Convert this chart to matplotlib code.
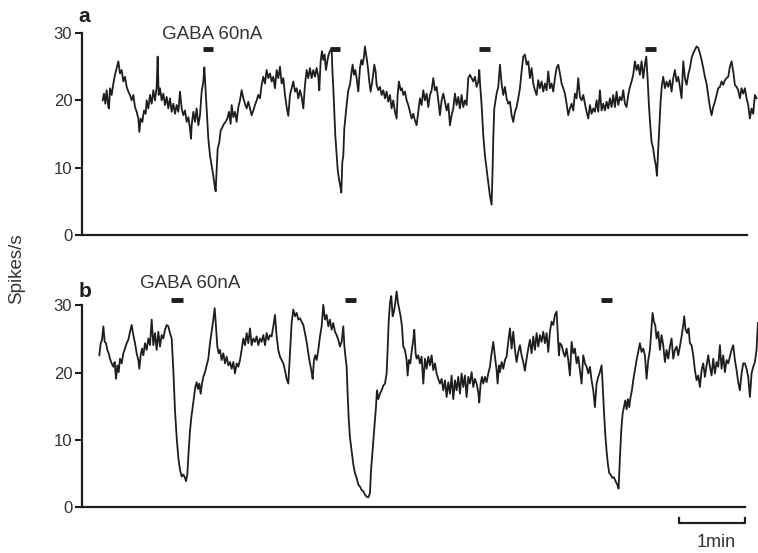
import matplotlib.pyplot as plt

plt.rcParams['font.family'] = ['Liberation Sans', 'DejaVu Sans']

# firing rate traces: (time in s, spikes/s)
trace_a = [
  (18.6, 20.0), (19.8, 21.0), (21.0, 19.5), (22.2, 21.5), (23.7, 19.0), (24.3, 18.8),
  (25.2, 21.8), (26.7, 20.8), (28.2, 22.5), (29.7, 23.8), (31.2, 24.8), (32.7, 25.8),
  (34.2, 24.0), (35.7, 24.5), (37.2, 22.8), (38.7, 23.5), (40.2, 22.0), (41.7, 21.3),
  (43.2, 20.8), (44.7, 20.0), (46.2, 20.8), (47.7, 19.0), (49.2, 18.3), (50.7, 17.3),
  (51.6, 15.3), (52.8, 17.3), (54.3, 16.8), (55.8, 18.5), (57.3, 18.0), (58.2, 20.0),
  (59.7, 18.8), (61.2, 20.8), (62.7, 19.5), (64.2, 21.5), (65.7, 20.0), (67.2, 22.0),
  (68.1, 26.5), (69.0, 20.8), (70.2, 21.8), (71.7, 20.0), (73.2, 21.0), (74.7, 19.3),
  (76.2, 20.5), (77.7, 18.8), (79.2, 20.3), (80.7, 18.3), (82.2, 19.5), (83.7, 18.0),
  (85.2, 19.3), (86.7, 18.3), (88.2, 21.3), (89.7, 18.8), (91.2, 17.8), (92.7, 18.5),
  (94.2, 16.8), (95.7, 17.5), (97.2, 15.8), (98.1, 14.3), (98.7, 16.3), (100.2, 18.3),
  (101.7, 16.8), (103.2, 18.8), (104.7, 16.3), (106.2, 17.8), (107.7, 21.3), (109.2, 22.8),
  (110.1, 24.9), (111.0, 22.3), (112.2, 18.8), (113.7, 14.3), (115.2, 11.8), (116.7, 10.3),
  (118.2, 8.8), (119.4, 7.3), (120.3, 6.5), (121.2, 9.8), (122.1, 12.8), (123.6, 13.8),
  (124.8, 15.5), (126.3, 16.0), (127.8, 16.5), (129.3, 16.8), (130.8, 17.3), (132.3, 18.3),
  (133.8, 16.5), (134.7, 19.3), (136.2, 17.5), (137.7, 18.3), (139.2, 16.8), (140.7, 19.0),
  (142.2, 20.0), (143.7, 21.5), (145.2, 20.3), (146.7, 19.5), (148.2, 18.8), (149.7, 19.8),
  (151.2, 18.8), (152.7, 17.8), (154.2, 18.5), (155.7, 19.3), (157.2, 20.0), (158.7, 20.8),
  (160.2, 20.3), (161.7, 22.3), (163.2, 23.5), (164.7, 22.5), (166.2, 24.5), (167.7, 23.3),
  (169.2, 24.0), (170.7, 22.8), (172.2, 23.5), (173.7, 21.8), (175.2, 24.5), (176.7, 23.3),
  (178.2, 25.0), (179.7, 22.5), (181.2, 23.3), (182.7, 20.8), (184.2, 19.0), (185.7, 17.7),
  (187.2, 20.8), (188.7, 21.8), (190.2, 22.8), (191.7, 21.3), (193.2, 21.8), (194.7, 20.3),
  (196.2, 21.5), (197.7, 20.5), (199.2, 18.8), (200.7, 22.3), (202.2, 24.5), (203.7, 23.3),
  (205.2, 24.8), (206.7, 23.3), (208.2, 24.5), (209.7, 23.5), (211.2, 24.8), (212.7, 23.5),
  (213.6, 21.5), (214.8, 25.8), (216.0, 27.3), (217.2, 26.0), (218.4, 26.8), (219.6, 24.5),
  (220.8, 25.8), (222.0, 26.8), (223.2, 27.3), (224.7, 27.7), (225.3, 24.8), (226.2, 21.8),
  (227.1, 18.3), (228.0, 14.8), (229.2, 11.8), (230.1, 9.8), (231.3, 8.3), (232.5, 7.3),
  (233.4, 6.3), (234.3, 10.8), (235.2, 11.8), (236.1, 15.8), (237.3, 17.8), (238.5, 19.8),
  (239.7, 21.5), (241.2, 22.3), (242.7, 24.3), (243.6, 25.3), (244.8, 23.8), (246.0, 24.5),
  (247.2, 23.3), (248.7, 21.3), (250.2, 24.8), (251.4, 26.0), (252.6, 25.3), (253.8, 26.5),
  (254.7, 28.0), (256.2, 26.3), (257.4, 24.8), (258.6, 22.8), (259.8, 21.3), (261.0, 22.5),
  (262.2, 24.0), (263.1, 25.3), (264.3, 24.3), (265.2, 22.3), (266.7, 21.5), (268.2, 22.0),
  (269.7, 20.8), (271.2, 21.5), (272.7, 20.3), (274.2, 21.3), (275.7, 19.8), (277.2, 20.8),
  (278.7, 18.8), (280.2, 20.0), (281.7, 18.3), (283.2, 17.3), (284.1, 20.8), (285.3, 22.8),
  (286.8, 21.5), (288.0, 21.8), (289.2, 20.8), (290.7, 21.3), (292.2, 20.0), (293.7, 19.3),
  (295.2, 18.3), (296.7, 17.3), (298.2, 18.0), (299.7, 17.0), (301.2, 16.3), (302.7, 18.3),
  (304.2, 20.3), (305.7, 19.3), (307.2, 21.5), (308.7, 20.0), (310.2, 21.0), (311.7, 19.0),
  (313.2, 20.8), (314.7, 21.5), (316.2, 23.3), (317.7, 21.5), (319.2, 22.0), (320.7, 20.0),
  (322.2, 17.8), (323.7, 20.0), (325.2, 21.0), (326.7, 19.8), (328.2, 18.5), (329.7, 19.5),
  (331.2, 16.3), (332.7, 17.8), (334.2, 18.8), (335.7, 21.0), (337.2, 19.3), (338.7, 20.5),
  (340.2, 18.8), (341.7, 20.8), (343.2, 19.0), (344.7, 20.0), (346.2, 19.3), (347.7, 23.3),
  (349.2, 23.8), (350.7, 23.3), (352.2, 22.8), (353.7, 23.5), (355.2, 22.0), (356.7, 22.8),
  (357.6, 24.5), (358.5, 22.0), (359.7, 19.3), (361.2, 14.8), (362.7, 11.8), (364.2, 9.8),
  (365.7, 7.8), (367.2, 5.8), (368.7, 4.5), (369.6, 9.8), (370.2, 14.3), (371.1, 18.8),
  (372.3, 20.0), (373.2, 21.0), (374.7, 22.0), (376.2, 25.3), (377.7, 22.5), (379.2, 20.8),
  (380.7, 22.0), (382.2, 20.3), (383.7, 19.5), (385.2, 19.8), (386.7, 17.8), (388.2, 16.8),
  (389.7, 18.3), (391.2, 19.0), (392.7, 20.3), (394.2, 21.8), (395.7, 24.3), (397.2, 26.5),
  (398.7, 26.8), (400.2, 25.3), (401.7, 25.8), (403.2, 23.3), (404.7, 24.8), (406.2, 22.5),
  (407.7, 21.5), (409.2, 20.8), (410.7, 23.0), (412.2, 21.8), (413.7, 22.8), (415.2, 21.3),
  (416.7, 22.5), (418.2, 21.5), (419.7, 24.3), (421.2, 21.8), (422.7, 22.5), (424.2, 21.3),
  (425.7, 23.3), (427.2, 24.8), (428.7, 25.3), (430.2, 24.0), (431.7, 22.5), (433.2, 21.8),
  (434.7, 21.0), (436.2, 19.5), (437.7, 17.8), (439.2, 18.8), (440.7, 19.5), (442.2, 18.5),
  (443.7, 21.0), (445.2, 20.3), (446.7, 23.3), (448.2, 20.5), (449.7, 20.0), (451.2, 20.8),
  (452.7, 19.5), (454.2, 18.3), (455.7, 17.3), (457.2, 19.3), (458.7, 18.0), (460.2, 18.8),
  (461.7, 18.3), (463.2, 20.0), (464.7, 18.3), (466.2, 21.5), (467.7, 18.5), (469.2, 19.5),
  (470.7, 18.5), (472.2, 19.8), (473.7, 18.8), (475.2, 20.3), (476.7, 19.0), (478.2, 20.8),
  (479.7, 19.0), (481.2, 21.3), (482.7, 19.3), (484.2, 20.5), (485.7, 20.0), (487.2, 21.5),
  (488.7, 19.5), (490.2, 19.0), (491.7, 20.8), (493.2, 22.0), (494.7, 22.8), (496.2, 23.8),
  (497.7, 25.8), (499.2, 24.5), (500.7, 25.3), (502.2, 23.8), (503.7, 25.8), (505.2, 23.3),
  (506.7, 25.3), (507.9, 26.5), (509.1, 23.3), (510.3, 19.3), (511.5, 16.3), (512.7, 13.8),
  (514.2, 12.8), (515.4, 11.3), (516.6, 10.3), (517.5, 8.8), (518.4, 11.8), (519.6, 15.8),
  (520.8, 19.8), (522.0, 22.3), (523.2, 23.5), (524.7, 21.8), (526.2, 22.8), (527.7, 22.0),
  (529.2, 23.0), (530.7, 21.3), (532.2, 23.3), (533.7, 24.5), (535.2, 22.8), (536.7, 23.5),
  (538.2, 22.0), (539.7, 20.3), (541.2, 25.8), (542.7, 23.3), (544.2, 22.3), (545.7, 23.8),
  (547.2, 24.8), (548.7, 26.3), (550.2, 27.0), (551.7, 27.5), (553.2, 28.0), (554.7, 27.8),
  (556.2, 27.0), (557.7, 26.0), (559.2, 24.8), (560.7, 23.5), (562.2, 22.5), (563.7, 20.8),
  (565.2, 19.0), (566.7, 17.8), (568.2, 19.0), (569.7, 19.8), (571.2, 20.8), (572.7, 21.8),
  (574.2, 22.0), (575.7, 22.8), (577.2, 22.3), (578.7, 23.0), (580.2, 23.3), (581.7, 23.5),
  (583.2, 25.0), (584.7, 25.8), (586.2, 24.3), (587.7, 22.3), (589.2, 22.0), (590.7, 21.5),
  (592.2, 20.3), (593.7, 21.8), (595.2, 21.0), (596.7, 21.8), (598.2, 20.3), (599.7, 19.3),
  (601.2, 17.3), (602.7, 18.8), (604.2, 18.0), (605.7, 20.8), (607.2, 20.3),
]

trace_b = [
  (15.6, 22.6), (16.8, 24.4), (18.0, 24.9), (19.2, 26.9), (20.4, 24.6), (21.6, 24.4),
  (22.8, 23.4), (24.0, 22.9), (25.2, 22.1), (26.7, 21.4), (28.2, 20.9), (29.4, 21.6),
  (30.6, 19.1), (31.8, 21.1), (33.0, 20.1), (34.2, 22.1), (35.7, 21.4), (37.2, 22.9),
  (38.7, 23.6), (40.2, 24.4), (41.7, 24.9), (43.2, 26.1), (44.7, 27.1), (46.2, 25.6),
  (47.7, 24.4), (49.2, 22.9), (50.7, 21.9), (51.6, 20.6), (52.8, 22.6), (54.0, 23.6),
  (55.2, 22.6), (56.7, 24.4), (58.2, 23.4), (59.7, 25.1), (61.2, 24.1), (62.7, 27.9),
  (64.2, 24.1), (65.7, 25.9), (67.2, 23.4), (68.7, 26.1), (70.2, 23.9), (71.7, 25.6),
  (73.2, 25.1), (74.7, 26.4), (76.2, 27.1), (77.7, 26.9), (79.2, 25.9), (80.7, 25.1),
  (82.2, 20.4), (83.7, 14.4), (85.2, 10.4), (86.7, 7.4), (88.2, 5.6), (89.7, 4.6),
  (91.2, 4.9), (92.7, 4.4), (93.6, 3.9), (94.8, 4.9), (96.0, 8.4), (97.2, 11.4),
  (98.4, 13.4), (99.6, 14.9), (100.8, 16.4), (102.0, 17.9), (103.2, 18.6), (104.4, 17.6),
  (105.6, 18.4), (106.8, 16.9), (108.0, 18.4), (109.2, 19.4), (110.7, 20.1), (112.2, 21.1),
  (113.7, 22.1), (115.2, 24.4), (116.7, 26.1), (118.2, 27.9), (119.4, 29.6), (120.6, 26.9),
  (121.8, 23.9), (123.0, 22.9), (124.2, 23.4), (125.7, 21.9), (127.2, 22.9), (128.7, 21.4),
  (130.2, 22.4), (131.7, 21.1), (133.2, 21.6), (134.7, 20.6), (136.2, 21.6), (137.7, 19.9),
  (139.2, 21.4), (140.7, 20.9), (142.2, 21.9), (143.7, 23.4), (145.2, 25.1), (146.7, 24.1),
  (148.2, 25.9), (149.7, 24.4), (151.2, 26.6), (152.7, 24.1), (154.2, 25.1), (155.7, 24.6),
  (157.2, 25.4), (158.7, 24.1), (160.2, 25.1), (161.7, 24.6), (163.2, 25.6), (164.7, 24.1),
  (166.2, 25.9), (167.7, 24.9), (169.2, 25.6), (170.7, 25.4), (172.2, 26.9), (173.7, 28.6),
  (175.2, 25.4), (176.7, 23.4), (178.2, 22.4), (179.7, 21.9), (181.2, 21.4), (182.7, 20.4),
  (184.2, 19.1), (185.7, 18.4), (187.2, 22.9), (188.7, 27.4), (190.2, 29.4), (191.7, 28.4),
  (193.2, 28.9), (194.7, 27.9), (196.2, 28.1), (197.7, 27.6), (199.2, 27.1), (200.7, 25.9),
  (202.2, 24.6), (203.7, 22.9), (205.2, 21.4), (206.7, 20.1), (207.6, 19.1), (208.8, 21.9),
  (210.0, 22.6), (211.2, 21.9), (212.7, 23.4), (214.2, 25.4), (215.7, 26.9), (217.2, 30.1),
  (218.7, 27.9), (220.2, 28.6), (221.7, 26.9), (223.2, 27.9), (224.7, 26.4), (226.2, 27.4),
  (227.7, 26.1), (229.2, 25.6), (230.7, 24.9), (232.2, 23.9), (233.7, 24.6), (235.2, 26.9),
  (236.1, 24.1), (237.0, 22.6), (238.2, 20.9), (239.1, 16.9), (240.0, 13.4), (241.2, 10.4),
  (242.7, 8.4), (244.2, 6.4), (245.7, 5.1), (247.2, 4.4), (248.7, 3.4), (250.2, 3.1),
  (251.7, 2.6), (253.2, 2.4), (254.7, 1.9), (256.2, 1.6), (257.7, 1.5), (259.2, 2.1),
  (260.1, 5.4), (261.3, 7.9), (262.2, 9.9), (263.4, 12.4), (264.6, 14.9), (265.5, 17.4),
  (266.7, 16.1), (268.2, 16.9), (269.7, 17.4), (271.2, 18.1), (272.7, 18.4), (274.2, 19.9),
  (275.1, 23.4), (276.0, 27.4), (277.2, 30.4), (278.4, 31.4), (279.6, 28.4), (280.8, 29.1),
  (282.0, 30.4), (283.2, 32.1), (284.4, 30.4), (285.6, 29.4), (286.8, 28.4), (288.0, 26.9),
  (289.2, 23.9), (290.7, 23.4), (292.2, 21.9), (293.1, 19.6), (294.3, 21.9), (295.5, 21.4),
  (296.7, 23.1), (298.2, 24.9), (299.1, 26.4), (300.3, 22.9), (301.2, 22.1), (302.7, 22.6),
  (304.2, 21.4), (305.7, 22.4), (307.2, 18.4), (308.7, 22.1), (310.2, 20.6), (311.7, 22.4),
  (313.2, 21.1), (314.7, 22.6), (316.2, 20.4), (317.7, 21.4), (319.2, 19.9), (320.7, 19.1),
  (322.2, 18.4), (323.7, 19.1), (325.2, 17.4), (326.7, 18.9), (328.2, 16.4), (329.7, 18.6),
  (331.2, 16.9), (332.7, 19.6), (334.2, 16.1), (335.7, 18.9), (337.2, 17.4), (338.7, 19.4),
  (340.2, 16.9), (341.7, 19.9), (343.2, 17.9), (344.7, 19.6), (346.2, 16.4), (347.7, 19.4),
  (349.2, 18.4), (350.7, 20.1), (352.2, 17.9), (353.7, 19.1), (355.2, 18.4), (356.7, 17.1),
  (357.6, 15.6), (358.8, 18.4), (360.0, 19.4), (361.2, 18.4), (362.7, 19.4), (364.2, 18.6),
  (365.7, 19.9), (367.2, 20.9), (368.7, 22.9), (370.2, 24.6), (371.7, 22.4), (373.2, 20.4),
  (374.1, 18.4), (375.3, 21.1), (376.2, 20.1), (377.7, 21.6), (379.2, 20.6), (380.7, 21.9),
  (382.2, 22.4), (383.7, 24.6), (385.2, 26.6), (386.7, 23.6), (388.2, 26.1), (389.7, 23.4),
  (391.2, 21.6), (392.7, 23.1), (394.2, 24.1), (395.7, 22.6), (397.2, 21.6), (398.7, 20.3),
  (400.2, 22.1), (401.7, 23.6), (403.2, 24.9), (404.7, 22.9), (406.2, 25.4), (407.7, 23.4),
  (409.2, 25.9), (410.7, 23.9), (412.2, 25.6), (413.7, 24.6), (415.2, 26.1), (416.7, 24.4),
  (418.2, 25.9), (419.7, 23.1), (421.2, 26.1), (422.7, 27.6), (424.2, 27.1), (425.7, 28.6),
  (427.2, 29.1), (428.1, 26.4), (429.3, 22.6), (430.2, 24.4), (431.7, 24.1), (433.2, 23.1),
  (434.7, 22.4), (436.2, 23.6), (437.7, 21.9), (439.2, 19.6), (440.7, 24.6), (442.2, 22.9),
  (443.7, 23.6), (445.2, 21.4), (446.7, 22.4), (448.2, 20.4), (449.7, 18.4), (451.2, 22.6),
  (452.7, 21.4), (454.2, 20.9), (455.7, 19.9), (457.2, 20.9), (458.7, 18.9), (460.2, 17.4),
  (461.7, 14.9), (463.2, 18.4), (464.7, 19.4), (466.2, 20.1), (467.7, 21.1), (468.6, 18.4),
  (469.8, 14.4), (471.0, 10.9), (472.2, 8.4), (473.4, 6.4), (474.6, 5.1), (475.8, 4.9),
  (477.3, 4.4), (478.8, 4.5), (480.3, 3.9), (481.8, 3.4), (483.0, 2.8), (484.2, 7.4),
  (485.4, 11.4), (486.6, 13.9), (487.8, 14.9), (489.0, 15.9), (490.2, 14.6), (491.4, 16.1),
  (492.6, 14.9), (493.8, 16.4), (495.0, 17.4), (496.2, 18.9), (497.7, 20.4), (499.2, 21.9),
  (500.7, 23.1), (502.2, 24.4), (503.7, 23.1), (505.2, 23.6), (506.7, 22.6), (508.2, 19.1),
  (509.7, 21.9), (511.2, 23.4), (512.7, 26.9), (513.6, 28.9), (514.8, 27.6), (516.0, 27.1),
  (517.2, 25.1), (518.7, 26.1), (520.2, 23.4), (521.7, 25.6), (523.2, 24.1), (524.7, 21.6),
  (526.2, 23.4), (527.7, 22.1), (529.2, 23.9), (530.7, 25.1), (532.2, 22.1), (533.7, 23.4),
  (535.2, 23.9), (536.7, 22.6), (538.2, 23.9), (539.7, 25.4), (541.2, 27.1), (542.1, 28.4),
  (543.3, 26.4), (544.8, 25.9), (546.0, 26.6), (547.2, 24.4), (548.7, 24.1), (550.2, 22.6),
  (551.7, 20.4), (553.2, 18.9), (554.7, 19.6), (556.2, 17.9), (557.7, 20.4), (559.2, 21.4),
  (560.7, 19.4), (562.2, 21.1), (563.7, 22.6), (565.2, 20.9), (566.7, 19.6), (568.2, 22.1),
  (569.7, 19.9), (571.2, 21.6), (572.7, 20.9), (574.2, 24.1), (575.7, 20.6), (577.2, 22.6),
  (578.7, 20.1), (580.2, 21.9), (581.7, 21.4), (583.2, 22.4), (584.7, 23.4), (586.2, 24.1),
  (587.7, 21.9), (589.2, 20.4), (590.7, 18.6), (592.2, 17.4), (593.7, 19.9), (595.2, 21.4),
  (596.7, 21.4), (598.2, 20.6), (599.7, 19.4), (601.2, 16.4), (602.7, 19.9), (604.2, 20.9),
  (605.7, 21.6), (607.2, 23.4), (608.4, 27.4),
]

# GABA ejection periods (s)
gaba_on_a = [109, 223, 357, 507]
gaba_off_a = [118, 232, 367, 517]
gaba_on_b = [80, 237, 467]
gaba_off_b = [91, 247, 477]

yticks = [0, 10, 20, 30]
ink = '#1e1e1e'

fig = plt.figure(figsize=(7.58, 5.53), dpi=100)
ax_a = fig.add_axes([0.1082, 0.575, 0.894, 0.3653])
ax_b = fig.add_axes([0.1082, 0.0823, 0.894, 0.3653])


def style_panel(ax, x_end):
  ax.set_xlim(0, 610)
  ax.set_ylim(0, 30)
  ax.patch.set_visible(False)
  ax.spines['top'].set_visible(False)
  ax.spines['right'].set_visible(False)
  ax.spines['bottom'].set_bounds(0, x_end)
  ax.spines['left'].set_bounds(0, 30)
  for s in ['bottom', 'left']:
    ax.spines[s].set_linewidth(1.6)
    ax.spines[s].set_color(ink)
  ax.set_xticks([])
  ax.set_yticks(yticks)
  ax.tick_params(axis='y', length=5, width=1.5, color=ink,
                 labelsize=12, labelcolor='#333333', pad=2)


def draw_trace(ax, trace, on, off, bar_y):
  t = [p[0] for p in trace]
  r = [p[1] for p in trace]
  ax.plot(t, r, color=ink, lw=1.3, clip_on=False)
  ax.hlines([bar_y] * len(on), on, off, color=ink, lw=3.5, clip_on=False)


style_panel(ax_a, 599)
draw_trace(ax_a, trace_a, gaba_on_a, gaba_off_a, 27.6)
ax_a.text(117, 29.8, 'GABA 60nA', ha='center', va='center', fontsize=13.5, color='#333333')
ax_a.text(2.3, 32.4, 'a', ha='center', va='center', fontsize=15, fontweight='bold', color=ink)

style_panel(ax_b, 597)
draw_trace(ax_b, trace_b, gaba_on_b, gaba_off_b, 30.8)
ax_b.text(97, 33.3, 'GABA 60nA', ha='center', va='center', fontsize=13.5, color='#333333')
ax_b.text(3, 32.1, 'b', ha='center', va='center', fontsize=15, fontweight='bold', color=ink)

# 1 min scale bar under panel b
ax_b.plot([537, 537, 597, 597], [-1.6, -2.3, -2.3, -1.6], color=ink, lw=1.6, clip_on=False)
ax_b.text(571, -5.2, '1min', ha='center', va='center', fontsize=13, color='#333333')

fig.text(0.022, 0.515, 'Spikes/s', rotation=90, ha='center', va='center',
         fontsize=13.5, color='#333333')

fig.savefig('out.png', dpi=100)
